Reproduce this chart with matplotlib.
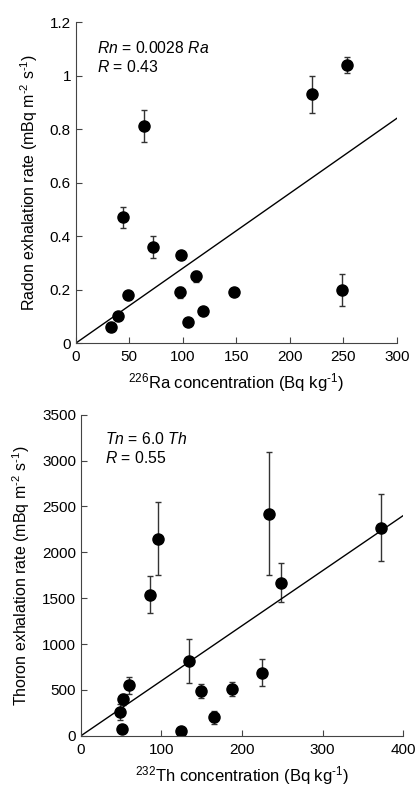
import matplotlib
matplotlib.use("Agg")
import matplotlib.pyplot as plt
from matplotlib.ticker import FuncFormatter

plt.rcParams['font.family'] = ['Liberation Sans', 'DejaVu Sans']
plt.rcParams['mathtext.fontset'] = 'custom'
plt.rcParams['mathtext.rm'] = 'Liberation Sans'
plt.rcParams['mathtext.it'] = 'Liberation Sans:italic'

# radon vs 226Ra
ra = [33, 39, 49, 44, 72, 98, 97, 112, 105, 119, 148, 249, 64, 221, 253]
rn = [0.06, 0.10, 0.18, 0.47, 0.36, 0.33, 0.19, 0.25, 0.08, 0.12, 0.19, 0.20, 0.81, 0.93, 1.04]
rn_err = [0.005, 0.01, 0.01, 0.04, 0.04, 0.01, 0.02, 0.02, 0.005, 0.005, 0.01, 0.06, 0.06, 0.07, 0.03]
rn_slope = 0.0028

# thoron vs 232Th
th = [49, 52, 51, 60, 86, 96, 134, 124, 149, 165, 188, 225, 233, 249, 373]
tn = [260, 400, 70, 550, 1540, 2150, 820, 50, 490, 200, 510, 690, 2420, 1670, 2270]
tn_err = [90, 60, 10, 90, 200, 400, 240, 10, 75, 70, 80, 150, 670, 210, 365]
tn_slope = 6.0

fig = plt.figure(figsize=(4.19, 7.87), dpi=100)
ax1 = fig.add_axes([0.181, 0.564, 0.766, 0.408])
ax2 = fig.add_axes([0.193, 0.065, 0.769, 0.408])

def style(ax):
    for s in ['top', 'right']:
        ax.spines[s].set_visible(False)
    for s in ['left', 'bottom']:
        ax.spines[s].set_linewidth(0.8)
        ax.spines[s].set_color('#444444')
    ax.tick_params(direction='in', length=4, labelsize=11, width=0.8, color='#444444')
    ax.tick_params(axis='x', pad=5)

ax1.errorbar(ra, rn, yerr=rn_err, fmt='o', color='black', ms=8,
             ecolor='#333333', elinewidth=1, capsize=2)
ax1.plot([0, 300], [0, rn_slope * 300], color='black', lw=1)
ax1.set_xlim(0, 300)
ax1.set_ylim(0, 1.2)
ax1.set_xticks([0, 50, 100, 150, 200, 250, 300])
ax1.set_yticks([0, 0.2, 0.4, 0.6, 0.8, 1.0, 1.2])
ax1.yaxis.set_major_formatter(FuncFormatter(lambda v, p: '%g' % round(v, 2)))
ax1.set_xlabel(r'$^{226}$Ra concentration (Bq kg$^{\text{-1}}$)', fontsize=12, labelpad=5)
ax1.set_ylabel(r'Radon exhalation rate (mBq m$^{\text{-2}}$ s$^{\text{-1}}$)', fontsize=11.5, labelpad=7)
ax1.text(0.065, 0.92, r'$\it{Rn}$ = 0.0028 $\it{Ra}$', transform=ax1.transAxes, fontsize=11.3, va='center')
ax1.text(0.065, 0.86, r'$\it{R}$ = 0.43', transform=ax1.transAxes, fontsize=11.3, va='center')
style(ax1)

ax2.errorbar(th, tn, yerr=tn_err, fmt='o', color='black', ms=8,
             ecolor='#333333', elinewidth=1, capsize=2)
ax2.plot([0, 400], [0, tn_slope * 400], color='black', lw=1)
ax2.set_xlim(0, 400)
ax2.set_ylim(0, 3500)
ax2.set_xticks([0, 100, 200, 300, 400])
ax2.set_yticks(range(0, 3501, 500))
ax2.set_xlabel(r'$^{232}$Th concentration (Bq kg$^{\text{-1}}$)', fontsize=12, labelpad=5)
ax2.set_ylabel(r'Thoron exhalation rate (mBq m$^{\text{-2}}$ s$^{\text{-1}}$)', fontsize=11.5, labelpad=7)
ax2.text(0.075, 0.925, r'$\it{Tn}$ = 6.0 $\it{Th}$', transform=ax2.transAxes, fontsize=11.3, va='center')
ax2.text(0.075, 0.865, r'$\it{R}$ = 0.55', transform=ax2.transAxes, fontsize=11.3, va='center')
style(ax2)

fig.savefig('out.png', dpi=100)
